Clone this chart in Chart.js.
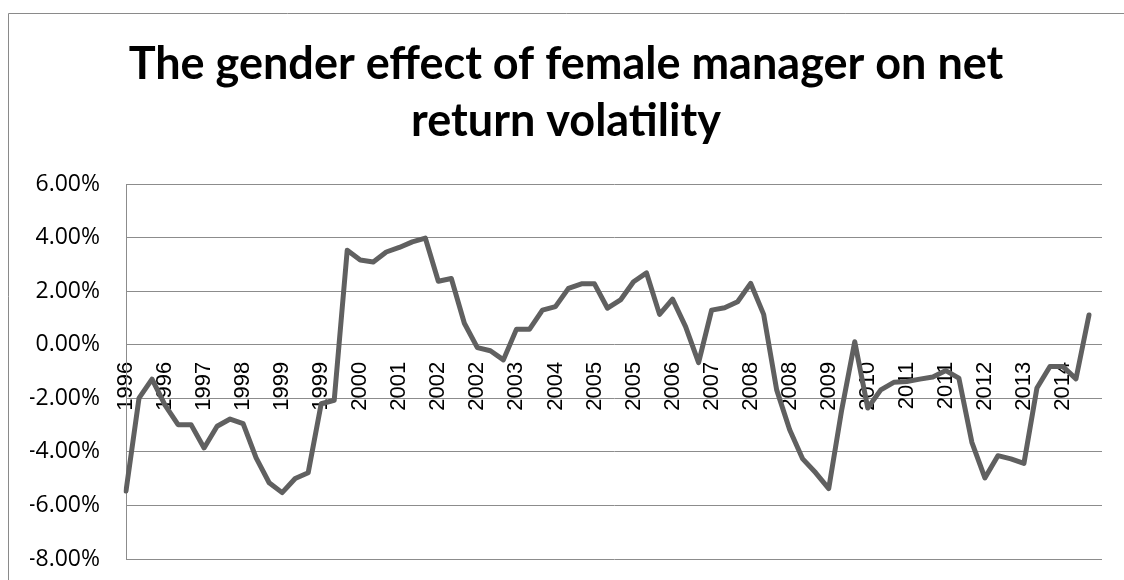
<!DOCTYPE html>
<html>
<head>
<meta charset="utf-8">
<script src="https://cdn.jsdelivr.net/npm/chart.js@4/dist/chart.umd.min.js"></script>
<style>
  html, body { margin: 0; padding: 0; background: #ffffff; overflow: hidden; }
  #wrap { width: 1124px; height: 580px; }
</style>
</head>
<body>
<div id="wrap"><canvas id="c" width="1124" height="580"></canvas></div>
<script>
// Category (year of each quarterly observation); the last slot is an empty category
const categories = [
  '1996','1996','1996','1996','1997','1997','1997','1997','1998','1998','1998','1998',
  '1999','1999','1999','1999','2000','2000','2000','2000','2001','2001','2001','2001',
  '2002','2002','2002','2002','2003','2003','2003','2003','2004','2004','2004','2004',
  '2005','2005','2005','2005','2006','2006','2006','2006','2007','2007','2007','2007',
  '2008','2008','2008','2008','2009','2009','2009','2009','2010','2010','2010','2010',
  '2011','2011','2011','2011','2012','2012','2012','2012','2013','2013','2013','2013',
  '2014','2014','2014',''
];

// Gender effect of female manager on net return volatility (percent)
const genderEffect = [
  -5.46, -1.99, -1.28, -2.25, -2.98, -2.98, -3.85, -3.04, -2.77, -2.94,
  -4.22, -5.15, -5.52, -4.99, -4.78, -2.20, -2.07,  3.54,  3.17,  3.10,
   3.47,  3.64,  3.85,  3.99,  2.38,  2.48,  0.81, -0.10, -0.22, -0.56,
   0.58,  0.58,  1.30,  1.43,  2.11,  2.28,  2.28,  1.37,  1.68,  2.36,
   2.69,  1.14,  1.71,  0.68, -0.66,  1.30,  1.39,  1.61,  2.30,  1.14,
  -1.68, -3.17, -4.26, -4.78, -5.37, -2.42,  0.12, -2.36, -1.68, -1.40,
  -1.37, -1.28, -1.20, -0.96, -1.24, -3.64, -4.97, -4.14, -4.26, -4.43,
  -1.61, -0.81, -0.81, -1.27,  1.12
];

// Y axis tick values (percent)
const yTicks = [-8, -6, -4, -2, 0, 2, 4, 6];
const labelEvery = 3;

const titleLines = ['The gender effect of female manager on net', 'return volatility'];

const outerBorder = {
  id: 'outerBorder',
  beforeDraw(chart) {
    const ctx = chart.ctx;
    ctx.save();
    ctx.fillStyle = '#ffffff';
    ctx.fillRect(0, 0, chart.width, chart.height);
    ctx.strokeStyle = '#8a8a8a';
    ctx.lineWidth = 1;
    ctx.beginPath();
    ctx.moveTo(8.5, chart.height);
    ctx.lineTo(8.5, 13.5);
    ctx.lineTo(chart.width, 13.5);
    ctx.stroke();
    ctx.restore();
  }
};

Chart.defaults.font.family = 'Lato, "Open Sans", sans-serif';
Chart.defaults.color = '#000000';

new Chart(document.getElementById('c'), {
  type: 'line',
  data: {
    labels: categories,
    datasets: [{
      data: genderEffect,
      borderColor: '#606060',
      borderWidth: 5,
      borderJoinStyle: 'round',
      borderCapStyle: 'round',
      pointRadius: 0,
      pointHoverRadius: 0,
      tension: 0,
      fill: false
    }]
  },
  options: {
    responsive: false,
    animation: false,
    devicePixelRatio: 1,
    layout: { padding: { top: 0, left: 30, right: 22, bottom: 21 } },
    plugins: {
      legend: { display: false },
      tooltip: { enabled: false },
      title: {
        display: true,
        text: titleLines,
        color: '#000000',
        font: { family: 'Lato', size: 45, weight: 'bold', lineHeight: 1.27 },
        padding: { top: 36, bottom: 34 }
      }
    },
    scales: {
      x: {
        type: 'category',
        position: { y: 0 },
        grid: { display: true, drawOnChartArea: false, drawTicks: true, tickLength: 17, tickColor: 'rgba(0,0,0,0)' },
        border: { display: false },
        ticks: {
          autoSkip: false,
          minRotation: 90,
          maxRotation: 90,
          padding: 0,
          color: '#000000',
          font: { family: '"Liberation Sans", Arial, sans-serif', size: 22, lineHeight: 0.8 },
          callback: function (value, index) {
            return index % labelEvery === 0 ? this.getLabelForValue(value) : '';
          }
        }
      },
      y: {
        min: yTicks[0],
        max: yTicks[yTicks.length - 1],
        afterBuildTicks(scale) {
          scale.ticks = yTicks.map(v => ({ value: v }));
        },
        afterFit(scale) { scale.width = 96; },
        grid: { color: '#8c8c8c', lineWidth: 1, drawTicks: true, tickLength: 26, tickColor: 'rgba(0,0,0,0)' },
        border: { display: true, color: '#8c8c8c', width: 1 },
        ticks: {
          padding: 0,
          color: '#000000',
          font: { family: '"Open Sans"', size: 23 },
          callback: v => v.toFixed(2) + '%'
        }
      }
    }
  },
  plugins: [outerBorder]
});
</script>
</body>
</html>
